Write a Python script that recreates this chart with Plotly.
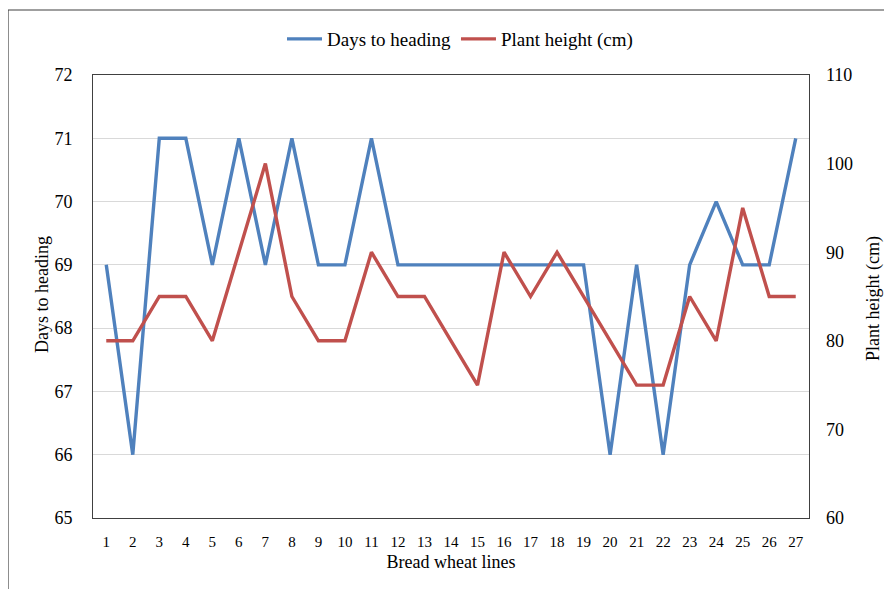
import plotly.graph_objects as go

lines = [str(i) for i in range(1, 28)]
days_to_heading = [69, 66, 71, 71, 69, 71, 69, 71, 69, 69, 71, 69, 69, 69, 69, 69, 69, 69, 69, 66, 69, 66, 69, 70, 69, 69, 71]
plant_height = [80, 80, 85, 85, 80, 90, 100, 85, 80, 80, 90, 85, 85, 80, 75, 90, 85, 90, 85, 80, 75, 75, 85, 80, 95, 85, 85]

FONT = "Liberation Serif"
BLUE = "#4F81BD"
RED = "#C0504D"

fig = go.Figure()
fig.add_trace(go.Scatter(x=lines, y=days_to_heading, mode="lines", name="Days to heading",
                         line=dict(color=BLUE, width=3.4), yaxis="y"))
fig.add_trace(go.Scatter(x=lines, y=plant_height, mode="lines", name="Plant height (cm)",
                         line=dict(color=RED, width=3.4), yaxis="y2"))

W, H = 892, 589
OFF = 8  # page offset of the figure (body margin)
L, R, T, B = 93 - OFF, 892 - 809 + OFF, 75 - OFF, 589 - 518 + OFF
pw, ph = W - L - R, H - T - B

def px_x(p):
    return (p - OFF - L) / pw

def px_y(p):
    return (H - B - (p - OFF)) / ph

fig.update_layout(
    width=W, height=H,
    margin=dict(l=L, r=R, t=T, b=B, pad=0, autoexpand=False),
    paper_bgcolor="white", plot_bgcolor="white",
    font=dict(family=FONT, size=16, color="#000000"),
    showlegend=True,
    legend=dict(orientation="h", x=px_x(460), xanchor="center", y=px_y(39), yanchor="middle",
                font=dict(family=FONT, size=19, color="#000000"), itemwidth=35, tracegroupgap=0,
                bgcolor="rgba(0,0,0,0)"),
    xaxis=dict(type="category", range=[-0.5, 26.5], showgrid=False, showline=True,
               linecolor="#404040", linewidth=1, mirror=True, ticks="",
               tickfont=dict(family=FONT, size=15), ticklabelstandoff=10,
               title=dict(text="Bread wheat lines", font=dict(family=FONT, size=18), standoff=6)),
    yaxis=dict(range=[65, 72], dtick=1, showgrid=True, gridcolor="#D9D9D9", gridwidth=1,
               showline=True, linecolor="#404040", linewidth=1, mirror=True, ticks="",
               zeroline=False, tickfont=dict(family=FONT, size=18), ticklabelstandoff=16),
    yaxis2=dict(range=[60, 110], dtick=10, overlaying="y", side="right", showgrid=False,
                showline=False, ticks="", zeroline=False, tickfont=dict(family=FONT, size=18),
                ticklabelstandoff=16),
    annotations=[
        dict(text="Days to heading", xref="paper", yref="paper", x=px_x(42), y=px_y(295),
             textangle=-90, showarrow=False, xanchor="center", yanchor="middle",
             font=dict(family=FONT, size=18)),
        dict(text="Plant height (cm)", xref="paper", yref="paper", x=px_x(873), y=px_y(298),
             textangle=-90, showarrow=False, xanchor="center", yanchor="middle",
             font=dict(family=FONT, size=18)),
    ],
    shapes=[
        dict(type="line", xref="paper", yref="paper", x0=px_x(8), x1=px_x(920), y0=px_y(10), y1=px_y(10),
             line=dict(color="#404040", width=1.2)),
        dict(type="line", xref="paper", yref="paper", x0=px_x(8), x1=px_x(8), y0=px_y(10), y1=px_y(620),
             line=dict(color="#404040", width=1.2)),
    ],
)

fig.write_html("out.html")
